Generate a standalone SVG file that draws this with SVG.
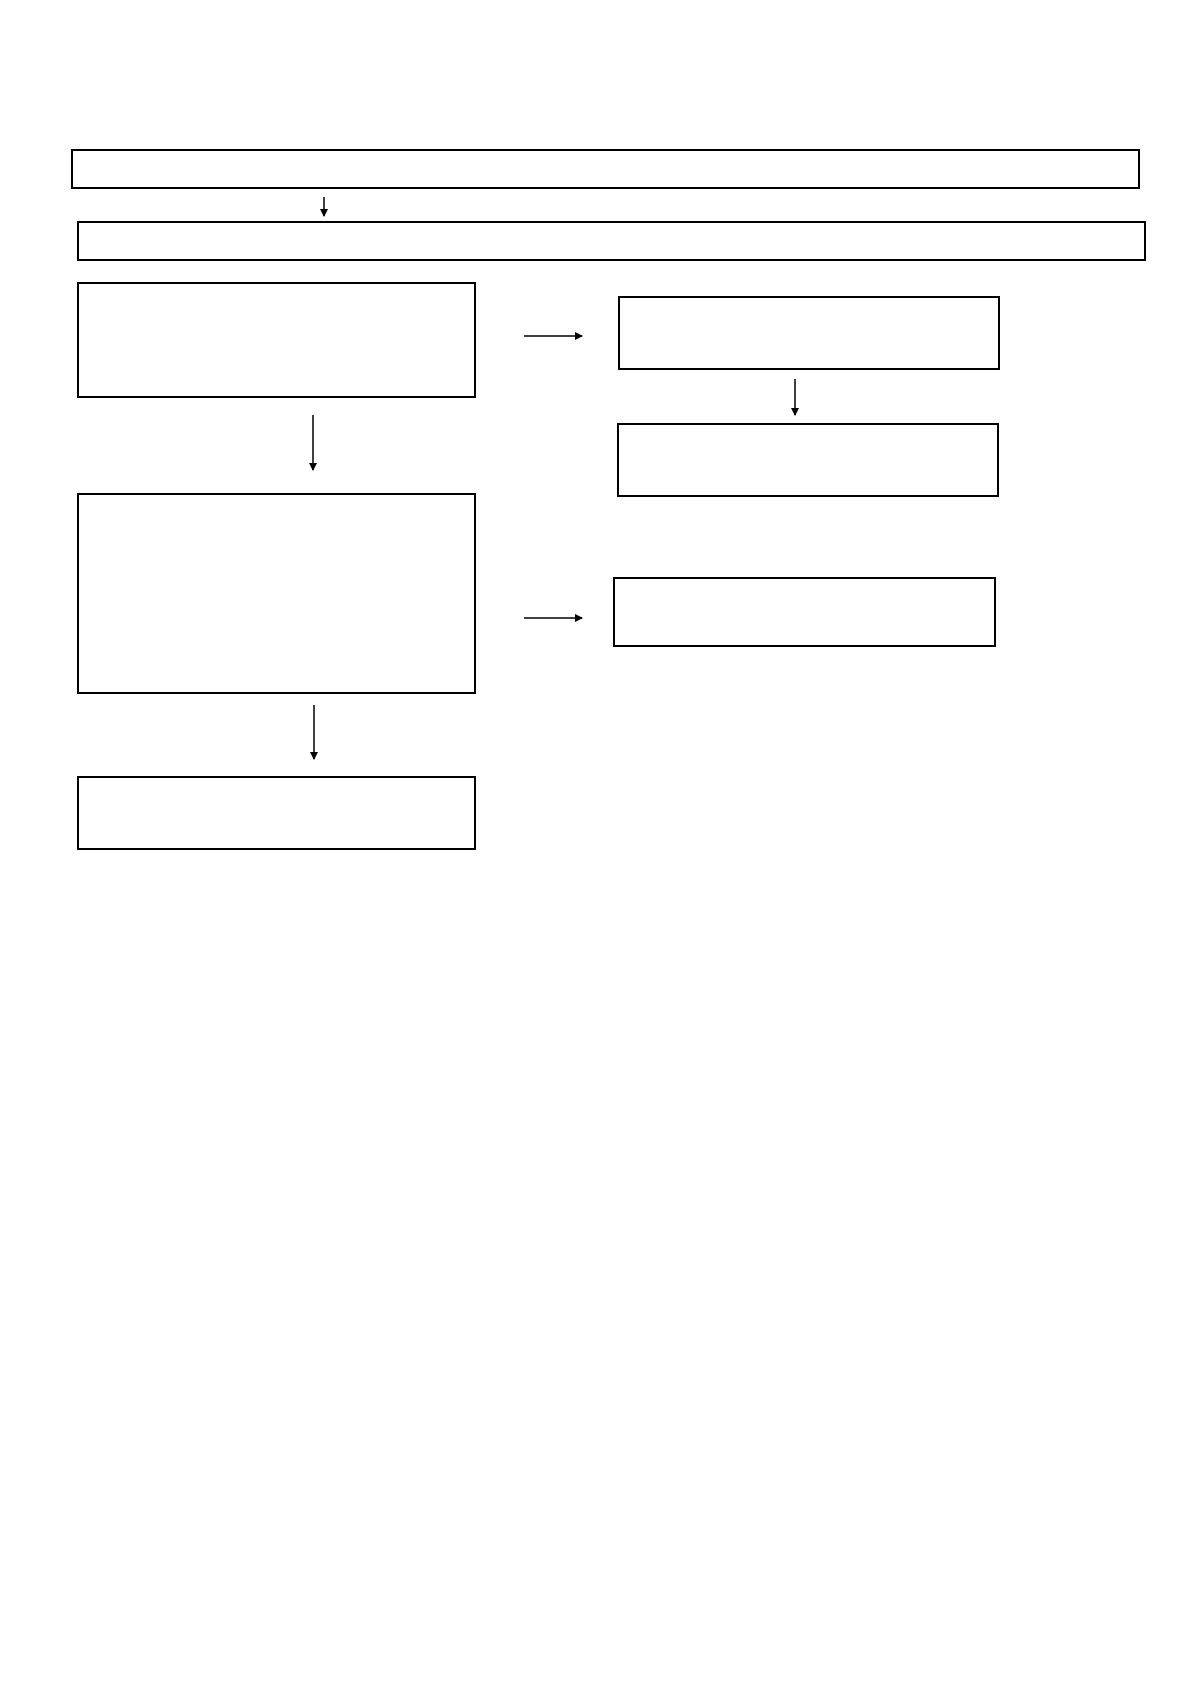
<svg xmlns="http://www.w3.org/2000/svg" width="1190" height="1684" viewBox="0 0 1190 1684">
<style>.b{fill:#fff;stroke:#000;stroke-width:2}.c{stroke:#000;stroke-width:1.5;fill:none}</style>
<defs><marker id="a" markerWidth="8" markerHeight="8" refX="7" refY="4" orient="auto" markerUnits="userSpaceOnUse"><path d="M0,0L8,4L0,8z" fill="#000"/></marker></defs>
<rect width="1190" height="1684" fill="#fff"/>
<g id="n1"><rect class="b" x="72" y="150" width="1067" height="38"/></g>
<g id="n2"><rect class="b" x="78" y="222" width="1067" height="38"/></g>
<g id="n3"><rect class="b" x="78" y="283" width="397" height="114"/></g>
<g id="n4"><rect class="b" x="78" y="494" width="397" height="199"/></g>
<g id="n5"><rect class="b" x="78" y="777" width="397" height="72"/></g>
<g id="n6"><rect class="b" x="619" y="297" width="380" height="72"/></g>
<g id="n7"><rect class="b" x="618" y="424" width="380" height="72"/></g>
<g id="n8"><rect class="b" x="614" y="578" width="381" height="68"/></g>
<g id="connectors">
<path class="c" d="M324,197V216" marker-end="url(#a)"/>
<path class="c" d="M313,415V470" marker-end="url(#a)"/>
<path class="c" d="M314,705V759" marker-end="url(#a)"/>
<path class="c" d="M524,336H582" marker-end="url(#a)"/>
<path class="c" d="M524,618H582" marker-end="url(#a)"/>
<path class="c" d="M795,379V415" marker-end="url(#a)"/>
</g>
</svg>
